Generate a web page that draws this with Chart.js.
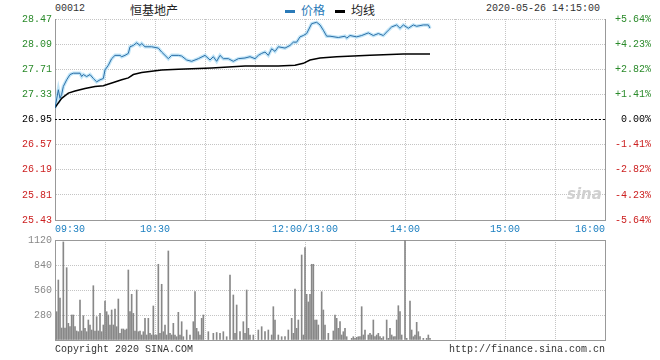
<!DOCTYPE html>
<html lang="zh-CN">
<head>
<meta charset="UTF-8">
<title>恒基地产 00012 分时</title>
<script src="https://cdn.jsdelivr.net/npm/chart.js"></script>
<style>
  body { margin: 0; background: #fff; width: 660px; height: 360px; position: relative; overflow: hidden; }
  .txt { position: absolute; white-space: nowrap; font-family: "Liberation Mono", monospace; font-size: 10px; line-height: 12px; color: #333; }
  .cjk { font-family: "Noto Sans CJK SC", sans-serif; font-size: 12px; line-height: 14px; }
  .dash { position: absolute; width: 10px; height: 3px; }
  #priceBox { position: absolute; left: 0; top: 0; width: 660px; height: 235px; }
  #volBox { position: absolute; left: 0; top: 225px; width: 660px; height: 125px; }
</style>
</head>
<body>
  <div class="txt" style="left:55px; top:3px;">00012</div>
  <div class="txt cjk" style="left:130px; top:3px; color:#222;">恒基地产</div>
  <div class="dash" style="left:285px; top:10px; background:#2a7ab8;"></div>
  <div class="txt cjk" style="left:301px; top:3px; color:#2a7ab8;">价格</div>
  <div class="dash" style="left:335px; top:10px; background:#000;"></div>
  <div class="txt cjk" style="left:351px; top:3px; color:#222;">均线</div>
  <div class="txt" style="right:60px; top:3px;">2020-05-26 14:15:00</div>

  <div id="priceBox"><canvas id="priceChart" width="660" height="235"></canvas></div>
  <div id="volBox"><canvas id="volChart" width="660" height="125"></canvas></div>

  <div class="txt" style="left:567px; top:188px; font-family:'DejaVu Sans', sans-serif; font-size:15px; font-style:italic; font-weight:bold; color:#d0d0d0;">sina</div>
  <div class="txt" style="left:55px; top:344px;">Copyright 2020 SINA.COM</div>
  <div class="txt" style="right:55px; top:344px;">http://finance.sina.com.cn</div>

<script>
// minutes since 09:30 (lunch break removed), 330 = 16:00
const prevClose = 26.95;
const gridMinutes = [0, 30, 60, 90, 120, 150, 180, 210, 240, 270, 300, 330];
const timeTickMinutes = [0, 60, 150, 210, 270, 330];
const timeTickLabels = ['09:30', '10:30', '12:00/13:00', '14:00', '15:00', '16:00'];
const priceTicks = [25.43, 25.81, 26.19, 26.57, 26.95, 27.33, 27.71, 28.09, 28.47];
const pctTicks = [-5.64, -4.23, -2.82, -1.41, 0, 1.41, 2.82, 4.23, 5.64];
const volTicks = [0, 280, 560, 840, 1120];

const priceMinutes = [0, 2, 3, 4, 5, 7, 9, 11, 15, 16, 17, 19, 21, 23, 25, 27, 29, 30, 32, 34, 36, 39, 40, 42, 44, 45, 47, 49, 51, 52, 54, 58, 62, 64, 66, 68, 70, 74, 76, 79, 82, 86, 90, 93, 95, 97, 99, 101, 104, 107, 110, 114, 117, 120, 122, 124, 126, 128, 130, 132, 134, 138, 141, 143, 145, 147, 149, 151, 154, 157, 159, 161, 163, 165, 170, 174, 175, 177, 181, 184, 188, 191, 194, 197, 200, 202, 205, 207, 209, 212, 215, 217, 221, 224, 225];
const priceValues = [27.12, 27.40, 27.27, 27.33, 27.45, 27.55, 27.63, 27.65, 27.65, 27.60, 27.63, 27.60, 27.63, 27.57, 27.52, 27.55, 27.57, 27.70, 27.77, 27.87, 27.92, 27.92, 27.90, 27.92, 27.95, 28.05, 28.07, 28.11, 28.07, 28.10, 28.05, 28.05, 28.03, 27.97, 27.92, 27.87, 27.92, 27.92, 27.91, 27.85, 27.83, 27.87, 27.92, 27.85, 27.90, 27.83, 27.92, 27.87, 27.87, 27.83, 27.87, 27.88, 27.90, 27.87, 27.92, 27.95, 27.97, 27.92, 28.02, 27.98, 28.05, 28.03, 28.07, 28.12, 28.12, 28.20, 28.22, 28.25, 28.40, 28.42, 28.38, 28.30, 28.21, 28.21, 28.19, 28.21, 28.18, 28.22, 28.20, 28.22, 28.26, 28.22, 28.25, 28.22, 28.30, 28.35, 28.38, 28.33, 28.38, 28.33, 28.38, 28.36, 28.38, 28.38, 28.33];

const avgMinutes = [0, 4, 8, 12, 18, 24, 29, 35, 40, 44, 47, 52, 58, 64, 74, 94, 114, 134, 144, 149, 153, 159, 169, 179, 189, 209, 225];
const avgValues = [27.13, 27.27, 27.35, 27.38, 27.42, 27.45, 27.46, 27.51, 27.55, 27.58, 27.63, 27.66, 27.68, 27.70, 27.71, 27.73, 27.76, 27.76, 27.77, 27.80, 27.85, 27.88, 27.90, 27.91, 27.92, 27.94, 27.94];

const volMinutes = [1, 2, 3, 4, 5, 6, 7, 8, 9, 10, 11, 12, 13, 14, 15, 16, 17, 18, 19, 20, 21, 22, 23, 24, 25, 26, 27, 28, 29, 30, 31, 32, 33, 34, 35, 36, 37, 38, 39, 40, 41, 42, 43, 44, 45, 46, 47, 48, 49, 50, 51, 52, 53, 54, 55, 56, 57, 58, 59, 60, 61, 62, 63, 64, 65, 66, 67, 68, 69, 70, 71, 72, 73, 74, 75, 76, 77, 79, 81, 83, 84, 85, 86, 87, 88, 89, 92, 95, 97, 99, 101, 103, 105, 107, 108, 109, 111, 113, 114, 115, 116, 117, 119, 122, 124, 126, 128, 130, 131, 132, 134, 136, 138, 140, 142, 143, 144, 145, 146, 148, 149, 150, 151, 152, 153, 154, 155, 156, 157, 158, 160, 161, 162, 164, 167, 168, 169, 170, 171, 172, 173, 174, 175, 178, 179, 180, 181, 182, 183, 184, 185, 186, 188, 189, 190, 191, 192, 193, 194, 195, 196, 197, 199, 200, 201, 202, 203, 204, 205, 206, 207, 208, 210, 211, 213, 214, 215, 216, 217, 218, 219, 221, 223, 224, 225];
const volValues = [317, 672, 470, 134, 1098, 134, 810, 187, 149, 280, 280, 149, 101, 93, 448, 101, 272, 131, 93, 224, 168, 112, 608, 101, 261, 101, 298, 93, 168, 437, 317, 280, 168, 336, 168, 347, 149, 459, 75, 123, 123, 112, 123, 784, 317, 512, 298, 101, 560, 93, 101, 56, 93, 243, 56, 243, 75, 56, 381, 56, 56, 848, 75, 624, 93, 168, 56, 997, 75, 56, 187, 56, 37, 310, 56, 205, 37, 112, 56, 205, 541, 131, 93, 56, 243, 280, 93, 75, 84, 75, 93, 37, 728, 504, 75, 392, 93, 205, 75, 560, 131, 56, 56, 112, 149, 93, 112, 56, 373, 224, 56, 37, 37, 112, 243, 75, 571, 131, 224, 952, 56, 1034, 512, 426, 512, 848, 848, 224, 224, 168, 541, 336, 168, 75, 101, 280, 243, 131, 205, 56, 93, 131, 37, 19, 37, 19, 30, 37, 37, 373, 56, 112, 56, 75, 56, 224, 37, 56, 75, 37, 19, 37, 224, 19, 131, 56, 37, 37, 224, 384, 317, 56, 1120, 19, 437, 112, 37, 56, 198, 93, 37, 19, 19, 56, 19];

const monoFont = { family: 'Liberation Mono', size: 10 };
const gridColor = '#c4c4c4';
const frameColor = '#999';

function pts(xs, ys) {
  return xs.map((m, i) => ({ x: m, y: ys[i] }));
}

function signColor(v, base) {
  if (Math.abs(v - base) < 1e-6) return '#000';
  return v > base ? '#2a8a2a' : '#cc2020';
}

const priceData = pts(priceMinutes, priceValues);

new Chart(document.getElementById('priceChart'), {
  type: 'line',
  data: {
    datasets: [
      { data: priceData, borderColor: '#2a6ea6', borderWidth: 1, pointRadius: 0, order: 0 },
      { data: pts(avgMinutes, avgValues), borderColor: '#000', borderWidth: 1.5, pointRadius: 0, order: 1 },
      { data: priceData, borderColor: 'rgba(170,220,245,0.7)', borderWidth: 3.5, pointRadius: 0, order: 2 },
      { data: [{ x: 0, y: prevClose }, { x: 330, y: prevClose }], borderColor: '#000', borderWidth: 1, borderDash: [2, 2], pointRadius: 0, order: 3 }
    ]
  },
  options: {
    responsive: false,
    animation: false,
    layout: { padding: { top: 19 } },
    plugins: { legend: { display: false }, tooltip: { enabled: false } },
    scales: {
      x: {
        type: 'linear', min: 0, max: 330,
        afterBuildTicks: s => { s.ticks = gridMinutes.map(v => ({ value: v })); },
        afterFit: s => { s.height = 15; },
        ticks: {
          autoSkip: false, maxRotation: 0, minRotation: 0, align: 'inner', padding: 3,
          color: '#1b7fc0', font: monoFont,
          callback: v => { const i = timeTickMinutes.indexOf(v); return i >= 0 ? timeTickLabels[i] : ''; }
        },
        grid: { color: gridColor, drawTicks: false },
        border: { color: frameColor, dash: [1, 1] }
      },
      y: {
        position: 'left', min: 25.43, max: 28.47,
        afterBuildTicks: s => { s.ticks = priceTicks.map(v => ({ value: v })); },
        afterFit: s => { s.width = 55; },
        ticks: {
          padding: 3, font: monoFont,
          color: c => signColor(c.tick.value, prevClose),
          callback: v => v.toFixed(2)
        },
        grid: { color: gridColor, drawTicks: false },
        border: { color: frameColor, dash: [1, 1] }
      },
      yPct: {
        position: 'right', min: -5.64, max: 5.64,
        afterBuildTicks: s => { s.ticks = pctTicks.map(v => ({ value: v })); },
        afterFit: s => { s.width = 55; },
        ticks: {
          padding: 2, font: monoFont,
          color: c => signColor(c.tick.value, 0),
          callback: v => (v > 0 ? '+' : v === 0 ? ' ' : '') + v.toFixed(2) + '%'
        },
        grid: { display: false },
        border: { color: frameColor }
      }
    }
  }
});

new Chart(document.getElementById('volChart'), {
  type: 'bar',
  data: {
    datasets: [
      { data: pts(volMinutes, volValues), backgroundColor: '#888', barThickness: 1, borderWidth: 0 }
    ]
  },
  options: {
    responsive: false,
    animation: false,
    layout: { padding: { top: 15 } },
    plugins: { legend: { display: false }, tooltip: { enabled: false } },
    scales: {
      x: {
        type: 'linear', min: 0, max: 330, offset: false,
        afterBuildTicks: s => { s.ticks = gridMinutes.map(v => ({ value: v })); },
        afterFit: s => { s.height = 10; },
        ticks: { display: false },
        grid: { color: gridColor, drawTicks: false, offset: false },
        border: { color: frameColor, dash: [1, 1] }
      },
      xTop: {
        type: 'linear', position: 'top', min: 0, max: 330,
        afterFit: s => { s.height = 0; },
        ticks: { display: false },
        grid: { display: false },
        border: { color: frameColor }
      },
      y: {
        position: 'left', min: 0, max: 1120,
        afterBuildTicks: s => { s.ticks = volTicks.map(v => ({ value: v })); },
        afterFit: s => { s.width = 55; },
        ticks: { padding: 3, font: monoFont, color: '#888', callback: v => v === 0 ? '' : String(v) },
        grid: { color: gridColor, drawTicks: false },
        border: { color: frameColor, dash: [1, 1] }
      },
      yR: {
        position: 'right', min: 0, max: 1120,
        afterFit: s => { s.width = 55; },
        ticks: { display: false },
        grid: { display: false },
        border: { color: frameColor }
      }
    }
  }
});
</script>
</body>
</html>
